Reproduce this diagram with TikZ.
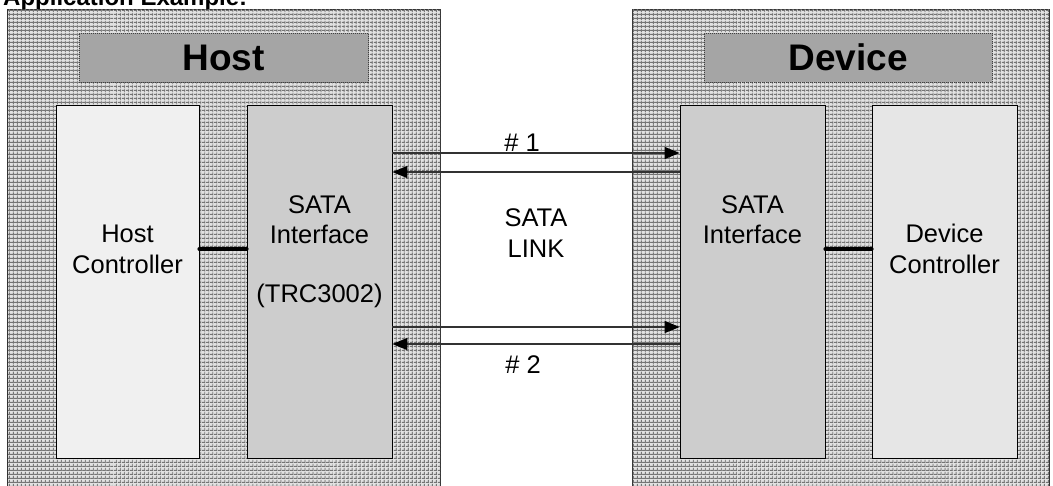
\documentclass[tikz,border=0pt]{standalone}
\usepackage{fontspec}
\setmainfont{Liberation Sans}
\usetikzlibrary{arrows.meta,patterns.meta}
\definecolor{outerfill}{RGB}{226,226,226}
\definecolor{gridc}{RGB}{115,115,115}
\definecolor{headfill}{RGB}{165,165,165}
\definecolor{hcfill}{RGB}{240,240,240}
\definecolor{satafill}{RGB}{205,205,205}
\definecolor{dcfill}{RGB}{230,230,230}
\definecolor{linkc}{RGB}{50,50,50}
\tikzset{
  outerbox/.style={draw=black!80, line width=0.8pt, inner sep=0pt,
    preaction={fill=outerfill},
    pattern={Lines[distance=4pt,angle=0,line width=1.3pt]}, pattern color=gridc,
    postaction={pattern={Lines[distance=4pt,angle=90,line width=1.3pt]}, pattern color=gridc}},
  headbox/.style={draw=black!75, dash pattern=on 1pt off 1pt, line width=0.8pt, fill=headfill, inner sep=0pt},
  innerbox/.style={draw=black, line width=0.8pt, inner sep=0pt},
  txt/.style={font=\fontsize{25.5}{30}\selectfont, inner sep=0pt, anchor=base},
  headtxt/.style={font=\fontsize{37}{40}\selectfont\bfseries, inner sep=0pt},
  linkarrow/.style={draw=linkc, line width=1.4pt, -{Triangle[length=15pt,width=12pt,color=black]}},
  bus/.style={line width=4pt, line cap=round, black}
}
\begin{document}
\begin{tikzpicture}[x=1pt,y=-1pt]
\useasboundingbox (0,0) rectangle (1053,485);
% title (cut at top, as in the reference)
\node[anchor=base west, inner sep=0pt, font=\fontsize{24}{28}\selectfont\bfseries] (title) at (3,5) {Application Example:};
% outer boxes
\node[outerbox, minimum width=433pt, minimum height=490pt] (hostout) at (223.5,254) {};
\node[outerbox, minimum width=417pt, minimum height=490pt] (devout) at (840.5,254) {};
% headers
\node[headbox, minimum width=289pt, minimum height=49pt] (hosthead) at (223.5,57.5) {};
\node[headtxt] (hostheadtxt) at (hosthead.center) {Host};
\node[headbox, minimum width=288pt, minimum height=49pt] (devhead) at (848,57.5) {};
\node[headtxt] (devheadtxt) at (devhead.center) {Device};
% inner boxes
\node[innerbox, fill=hcfill, minimum width=143pt, minimum height=353pt] (hc) at (127.5,281.5) {};
\node[innerbox, fill=satafill, minimum width=145pt, minimum height=353pt] (hs) at (319.5,281.5) {};
\node[innerbox, fill=satafill, minimum width=145pt, minimum height=353pt] (ds) at (752.5,281.5) {};
\node[innerbox, fill=dcfill, minimum width=145pt, minimum height=353pt] (dc) at (944.5,281.5) {};
% texts
\node[txt] (hc1) at (127.5,242) {Host};
\node[txt] (hc2) at (127.5,273) {Controller};
\node[txt] (hs1) at (319.5,213) {SATA};
\node[txt] (hs2) at (319.5,243) {Interface};
\node[txt] (hs3) at (319.5,302) {(TRC3002)};
\node[txt] (ds1) at (752.5,213) {SATA};
\node[txt] (ds2) at (752.5,243) {Interface};
\node[txt] (dc1) at (944.5,242) {Device};
\node[txt] (dc2) at (944.5,273) {Controller};
\node[txt] (l1) at (536,226) {SATA};
\node[txt] (l2) at (536,257) {LINK};
\node[txt] (n1) at (522,151) {\# 1};
\node[txt] (n2) at (523,373) {\# 2};
% buses
\draw[bus] ([yshift=32.5pt]hc.east) -- ([yshift=32.5pt]hs.west);
\draw[bus] ([yshift=32.5pt]ds.east) -- ([yshift=32.5pt]dc.west);
% link arrows
\draw[linkarrow] ([yshift=128.5pt]hs.east) -- ([yshift=128.5pt]ds.west);
\draw[linkarrow] ([yshift=109.5pt]ds.west) -- ([yshift=109.5pt]hs.east);
\draw[linkarrow] ([yshift=-45.5pt]hs.east) -- ([yshift=-45.5pt]ds.west);
\draw[linkarrow] ([yshift=-62.5pt]ds.west) -- ([yshift=-62.5pt]hs.east);
\end{tikzpicture}
\end{document}
